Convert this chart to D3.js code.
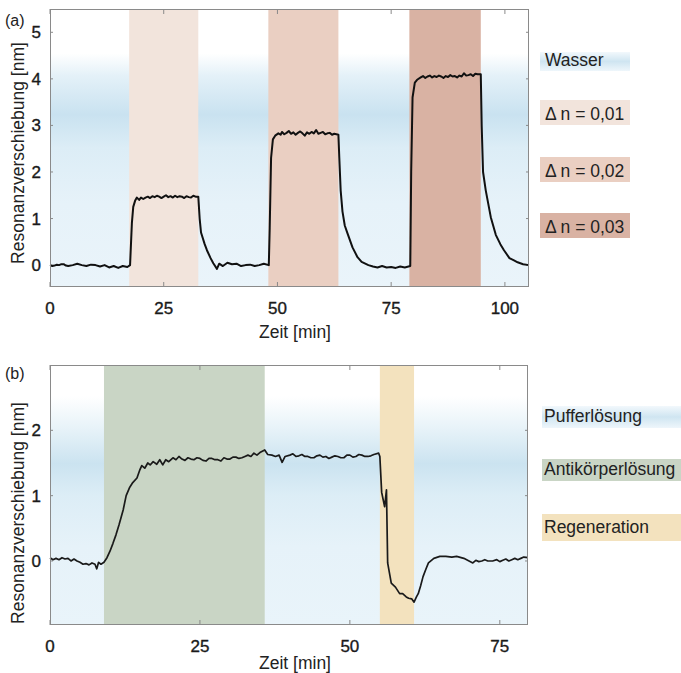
<!DOCTYPE html>
<html>
<head>
  <script src="https://d3js.org/d3.v7.min.js"></script>
  <style>
    body { margin: 0; background: white; }
    svg { display: block; font-family: "Liberation Sans", Arial, sans-serif; }
    .frame { fill: none; stroke: #8a8a8a; stroke-width: 1; }
    .ticklabel { font-size: 17px; fill: #1a1a1a; stroke: #1a1a1a; stroke-width: 0.35px; }
    .axlabel { font-size: 17.5px; fill: #222; }
    .legend { font-size: 17.5px; fill: #222; }
  </style>
</head>
<body>
<svg id="chart" width="681" height="673"></svg>
<script>
// ---- panel (a) data ----
const xTicksA = [0, 25, 50, 75, 100];
const yTicksA = [0, 1, 2, 3, 4, 5];
const bandsA = [
  { start: 17.4, end: 32.6, label: 'Δ n = 0,01', color: '#f2e4dc' },
  { start: 48.0, end: 63.4, label: 'Δ n = 0,02', color: '#eacfc2' },
  { start: 79.0, end: 94.7, label: 'Δ n = 0,03', color: '#d9b2a3' }
];
// [Zeit, Resonanzverschiebung]
const seriesA = [
  [0, 0.0], [0.5, -0.02], [1, -0.01], [1.5, 0.01], [2, 0.0], [2.5, 0.02], [3, 0.02], [3.5, -0.01], [4, -0.02],
  [5, 0.0], [6, 0.03], [7, 0.0], [8, -0.02], [9, 0.01], [10, 0.0], [11, -0.03], [12, 0.0], [13, -0.05],
  [14, -0.02], [15, -0.06], [16, -0.02], [17, -0.04], [17.6, 0.0], [18.0, 0.9], [18.3, 1.25], [18.7, 1.38],
  [19.1, 1.45], [19.6, 1.4], [20, 1.45], [20.5, 1.42], [21, 1.45], [21.5, 1.47], [22, 1.44], [22.5, 1.48],
  [23, 1.46], [23.5, 1.49], [24, 1.47], [24.5, 1.44], [25, 1.47], [25.5, 1.5], [26, 1.46], [26.5, 1.48],
  [27, 1.45], [27.5, 1.49], [28, 1.46], [28.5, 1.48], [29, 1.47], [29.5, 1.44], [30, 1.48], [30.5, 1.46],
  [31, 1.45], [31.5, 1.49], [32, 1.47], [32.6, 1.47], [32.9, 1.0], [33.2, 0.7], [34, 0.45], [34.5, 0.32],
  [35.3, 0.15], [35.9, 0.04], [36.7, -0.08], [37.2, 0.03], [38, -0.02], [39, 0.05], [40, 0.02], [41, 0.03],
  [42, -0.02], [43, 0.0], [44, 0.01], [45, -0.02], [46, 0.0], [47, 0.03], [48.1, 0.0], [48.3, 0.8],
  [48.6, 2.3], [49.0, 2.7], [49.5, 2.78], [50.2, 2.83], [50.7, 2.8], [51, 2.86], [51.5, 2.81], [52, 2.84],
  [52.5, 2.88], [53, 2.82], [53.5, 2.85], [54, 2.8], [54.5, 2.84], [55, 2.87], [55.5, 2.83], [56, 2.78],
  [56.5, 2.85], [57, 2.82], [57.5, 2.86], [58, 2.83], [58.5, 2.9], [59, 2.82], [59.5, 2.84], [60, 2.86],
  [60.5, 2.81], [61, 2.83], [61.5, 2.84], [62, 2.8], [62.5, 2.82], [63.4, 2.8], [63.6, 2.3], [63.9, 1.6],
  [64.3, 1.15], [64.8, 0.85], [65.4, 0.68], [66.5, 0.38], [67.6, 0.17], [68.5, 0.07], [70, 0.0], [71, -0.03],
  [72, -0.05], [73, -0.02], [74, -0.05], [75, -0.04], [76, -0.06], [77, -0.03], [78, -0.05], [79.2, -0.02],
  [79.4, 2.0], [79.7, 3.6], [80.2, 3.92], [80.7, 3.98], [81.5, 4.03], [82, 4.06], [82.5, 4.02], [83, 4.05],
  [83.5, 4.07], [84, 4.03], [84.5, 4.06], [85, 4.04], [85.5, 4.07], [86, 4.05], [86.5, 4.02], [87, 4.06],
  [87.5, 4.04], [88, 4.08], [88.5, 4.05], [89, 4.06], [89.5, 4.03], [90, 4.07], [90.5, 4.05], [91, 4.12],
  [91.5, 4.07], [92, 4.08], [92.5, 4.1], [93, 4.06], [93.5, 4.11], [94, 4.1], [94.7, 4.1], [94.9, 3.0],
  [95.2, 2.0], [95.8, 1.6], [96.9, 1.03], [98, 0.65], [99, 0.45], [99.8, 0.32], [101, 0.15], [102, 0.1],
  [102.8, 0.06], [104, 0.02], [105.3, 0.0]
];

// ---- panel (b) data ----
const xTicksB = [0, 25, 50, 75];
const yTicksB = [0, 1, 2];
const bandsB = [
  { start: 9.0, end: 35.8, label: 'Antikörperlösung', color: '#c9d5c5' },
  { start: 55.0, end: 60.7, label: 'Regeneration', color: '#f3e2be' }
];
const timeB = [0, 0.5, 1, 1.5, 2, 2.5, 3, 3.5, 4, 4.5, 5, 5.5, 6, 6.5, 7, 7.5, 7.8, 8.1, 8.5, 9, 9.5, 10, 10.5, 11, 11.5, 12.2, 12.7, 13.3, 13.8, 14.5, 15, 15.3, 15.8, 16.3, 16.7, 17.2, 17.8, 18.3, 18.8, 19.3, 19.8, 20.5, 21, 21.5, 22, 22.5, 23, 23.5, 24, 24.5, 25, 25.5, 26, 26.5, 27, 27.5, 28, 28.5, 29, 29.5, 30, 30.5, 31, 31.5, 32, 32.5, 33, 33.5, 34, 34.5, 35, 35.8, 36.3, 37, 37.6, 38.2, 38.7, 39.2, 40, 40.5, 41, 41.5, 42, 42.5, 43, 43.5, 44, 44.5, 45, 45.5, 46, 46.5, 47, 47.5, 48, 48.5, 49, 49.5, 50, 50.5, 51, 51.5, 52, 52.5, 53, 53.5, 54, 54.8, 55.0, 55.3, 55.8, 56.1, 56.3, 56.9, 57.6, 58.3, 58.8, 59.4, 59.8, 60.3, 60.7, 61.1, 61.4, 61.8, 62.2, 62.7, 63.1, 64, 65, 66, 67, 67.8, 69, 70.5, 71, 71.5, 72, 72.5, 73, 73.8, 74.5, 75, 75.5, 76, 76.5, 77, 77.5, 78, 78.5, 79, 79.7];
const shiftB = [0.05, 0.02, 0.04, 0.02, 0.05, 0.03, 0.04, 0.0, 0.03, 0.0, -0.02, -0.05, -0.04, -0.06, -0.03, -0.05, -0.12, -0.02, -0.05, -0.02, 0.05, 0.15, 0.27, 0.4, 0.55, 0.78, 1.0, 1.13, 1.2, 1.27, 1.4, 1.46, 1.42, 1.5, 1.47, 1.52, 1.48, 1.55, 1.47, 1.55, 1.52, 1.58, 1.55, 1.6, 1.56, 1.54, 1.58, 1.56, 1.55, 1.58, 1.57, 1.54, 1.53, 1.57, 1.57, 1.55, 1.55, 1.53, 1.58, 1.56, 1.56, 1.59, 1.59, 1.57, 1.58, 1.6, 1.62, 1.6, 1.65, 1.62, 1.66, 1.7, 1.63, 1.62, 1.6, 1.62, 1.51, 1.6, 1.62, 1.64, 1.6, 1.61, 1.63, 1.6, 1.6, 1.58, 1.58, 1.61, 1.62, 1.59, 1.6, 1.57, 1.59, 1.61, 1.6, 1.58, 1.58, 1.62, 1.62, 1.59, 1.6, 1.63, 1.62, 1.6, 1.6, 1.61, 1.63, 1.65, 1.6, 1.05, 0.83, 1.09, -0.03, -0.34, -0.4, -0.5, -0.5, -0.55, -0.57, -0.58, -0.63, -0.55, -0.5, -0.38, -0.24, -0.12, -0.03, 0.04, 0.07, 0.07, 0.06, 0.07, 0.04, -0.03, 0.01, -0.01, 0.0, 0.02, 0.0, 0.0, 0.02, -0.01, 0.01, 0.03, 0.0, 0.02, 0.04, 0.02, 0.04, 0.06, 0.05];

const svg = d3.select('#chart');
const defs = svg.append('defs');

// background gradients of the plot areas (pale blue band)
function vGrad(id, stops) {
  const g = defs.append('linearGradient').attr('id', id)
    .attr('x1', 0).attr('y1', 0).attr('x2', 0).attr('y2', 1);
  stops.forEach(s => g.append('stop').attr('offset', s[0]).attr('stop-color', s[1]));
}
vGrad('bgA', [[0, '#ffffff'], [0.16, '#ffffff'], [0.24, '#e4f1f8'], [0.38, '#c9e2f0'], [0.5, '#dcedf6'], [0.7, '#e6f2f9'], [1, '#eaf4fa']]);
vGrad('bgB', [[0, '#ffffff'], [0.12, '#ffffff'], [0.25, '#e6f2f8'], [0.38, '#cbe3f0'], [0.5, '#dcedf6'], [0.7, '#e6f2f9'], [1, '#e9f4fa']]);
vGrad('legWater', [[0, '#f2f8fc'], [0.5, '#cfe5f1'], [1, '#eef6fb']]);

function panel(opt) {
  const x = d3.scaleLinear().domain(opt.xDomain).range([opt.left, opt.right]);
  const y = d3.scaleLinear().domain(opt.yDomain).range([opt.bottom, opt.top]);
  const g = svg.append('g');

  g.append('rect').attr('x', opt.left).attr('y', opt.top)
    .attr('width', opt.right - opt.left).attr('height', opt.bottom - opt.top)
    .attr('fill', `url(#${opt.bg})`);

  g.selectAll('.band').data(opt.bands).join('rect')
    .attr('x', d => x(d.start)).attr('y', opt.top)
    .attr('width', d => x(d.end) - x(d.start)).attr('height', opt.bottom - opt.top)
    .attr('fill', d => d.color);

  // ticks inside on all four sides
  const tl = 5;
  g.selectAll('.xtb').data(opt.xTicks).join('line')
    .attr('x1', d => x(d)).attr('x2', d => x(d))
    .attr('y1', opt.bottom).attr('y2', opt.bottom - tl)
    .attr('stroke', '#8a8a8a');
  g.selectAll('.xtt').data(opt.xTicks).join('line')
    .attr('x1', d => x(d)).attr('x2', d => x(d))
    .attr('y1', opt.top).attr('y2', opt.top + tl)
    .attr('stroke', '#8a8a8a');
  g.selectAll('.ytl').data(opt.yTicks).join('line')
    .attr('x1', opt.left).attr('x2', opt.left + 3)
    .attr('y1', d => y(d)).attr('y2', d => y(d))
    .attr('stroke', '#8a8a8a');
  g.selectAll('.ytr').data(opt.yTicks).join('line')
    .attr('x1', opt.right).attr('x2', opt.right - 3)
    .attr('y1', d => y(d)).attr('y2', d => y(d))
    .attr('stroke', '#8a8a8a');

  g.append('path').datum(opt.points)
    .attr('fill', 'none')
    .attr('stroke', opt.lineColor)
    .attr('stroke-width', opt.lineWidth)
    .attr('stroke-linejoin', 'round')
    .attr('d', d3.line().x(d => x(d[0])).y(d => y(d[1])));

  g.append('rect').attr('class', 'frame')
    .attr('x', opt.left + 0.5).attr('y', opt.top + 0.5)
    .attr('width', opt.right - opt.left - 1).attr('height', opt.bottom - opt.top - 1);

  g.selectAll('.xl').data(opt.xTicks).join('text')
    .attr('class', 'ticklabel')
    .attr('x', d => x(d)).attr('y', opt.bottom + 27)
    .attr('text-anchor', 'middle')
    .text(d => d);
  g.selectAll('.yl').data(opt.yTicks).join('text')
    .attr('class', 'ticklabel')
    .attr('x', opt.left - 9).attr('y', d => y(d) + 6)
    .attr('text-anchor', 'end')
    .text(d => d);

  g.append('text').attr('class', 'axlabel')
    .attr('x', 295).attr('y', opt.xLabelY)
    .attr('text-anchor', 'middle')
    .text('Zeit [min]');
  g.append('text').attr('class', 'axlabel')
    .attr('transform', `translate(24,${opt.yLabelY}) rotate(-90)`)
    .attr('text-anchor', 'middle')
    .text('Resonanzverschiebung [nm]');
  g.append('text').attr('class', 'axlabel')
    .style('font-size', '16px')
    .attr('x', 5).attr('y', opt.tagY)
    .text(opt.tag);
  return { x, y };
}

panel({
  xDomain: [0, 105.3], yDomain: [-0.47, 5.5],
  left: 50, right: 529, top: 9, bottom: 287,
  bg: 'bgA', bands: bandsA, xTicks: xTicksA, yTicks: yTicksA,
  points: seriesA, lineColor: '#111', lineWidth: 2,
  xLabelY: 338, yLabelY: 153, tag: '(a)', tagY: 26
});

panel({
  xDomain: [0, 79.7], yDomain: [-0.98, 3.0],
  left: 50, right: 528, top: 365, bottom: 625,
  bg: 'bgB', bands: bandsB, xTicks: xTicksB, yTicks: yTicksB,
  points: timeB.map((t, i) => [t, shiftB[i]]), lineColor: '#1a1a1a', lineWidth: 1.7,
  xLabelY: 669, yLabelY: 513, tag: '(b)', tagY: 379
});

// legends
const legendA = [{ label: 'Wasser', fill: 'url(#legWater)' }].concat(bandsA.map(b => ({ label: b.label, fill: b.color })));
const legAY = [52, 100, 157, 213];
legendA.forEach((d, i) => {
  svg.append('rect').attr('x', 540).attr('y', legAY[i])
    .attr('width', 90).attr('height', i === 0 ? 19 : 25).attr('fill', d.fill);
  svg.append('text').attr('class', 'legend')
    .attr('x', 545).attr('y', legAY[i] + (i === 0 ? 14 : 20))
    .text(d.label);
});

const legendB = [{ label: 'Pufferlösung', fill: 'url(#legWater)' }].concat(bandsB.map(b => ({ label: b.label, fill: b.color })));
const legBY = [406, 459, 514];
legendB.forEach((d, i) => {
  svg.append('rect').attr('x', 542).attr('y', legBY[i])
    .attr('width', 139).attr('height', i === 2 ? 27 : 22).attr('fill', d.fill);
  svg.append('text').attr('class', 'legend')
    .attr('x', 544).attr('y', legBY[i] + (i === 2 ? 19 : 16))
    .text(d.label);
});
</script>
</body>
</html>
